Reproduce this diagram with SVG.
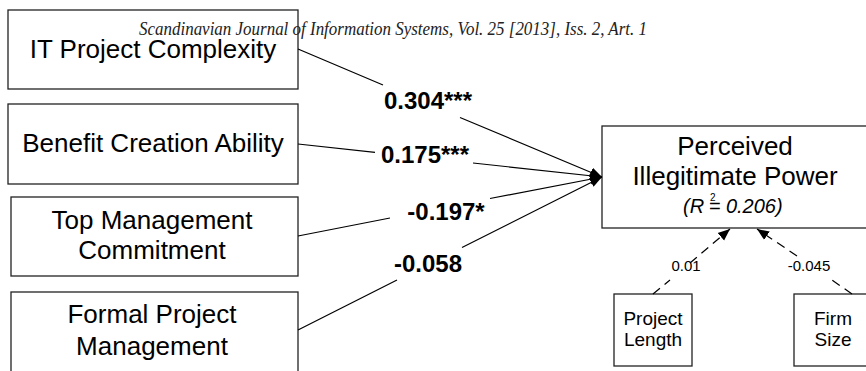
<svg xmlns="http://www.w3.org/2000/svg" width="866" height="371" viewBox="0 0 866 371">
<style>
  .box { fill: #fff; stroke: #222; stroke-width: 1.3; }
  .t { font-family: "Liberation Sans", Arial, sans-serif; font-size: 26px; fill: #000; text-anchor: middle; }
  .s { font-family: "Liberation Sans", Arial, sans-serif; font-size: 19px; fill: #000; text-anchor: middle; }
  .lbl { font-family: "Liberation Sans", Arial, sans-serif; font-size: 24px; font-weight: bold; fill: #000; text-anchor: middle; }
  .sl { font-family: "Liberation Sans", Arial, sans-serif; font-size: 15px; fill: #000; text-anchor: middle; }
  .conn { fill: none; stroke: #000; stroke-width: 1.2; }
  .dash { fill: none; stroke: #000; stroke-width: 1.2; stroke-dasharray: 9 6; }
  .hdr { font-family: "Liberation Serif", "Times New Roman", serif; font-style: italic; font-size: 19px; fill: #222; }
</style>
<defs>
  <marker id="arr" markerUnits="userSpaceOnUse" markerWidth="14" markerHeight="12" refX="12" refY="5" orient="auto" viewBox="0 0 14 10">
    <path d="M0,0 L12,5 L0,10 Z" fill="#000"/>
  </marker>
</defs>
<rect width="866" height="371" fill="#fff"/>

<g id="it-project-complexity">
  <rect class="box" x="8" y="10" width="290" height="79"/>
  <text class="t" x="153" y="58">IT Project Complexity</text>
</g>

<text class="hdr" x="139" y="35" textLength="508" lengthAdjust="spacingAndGlyphs">Scandinavian Journal of Information Systems, Vol. 25 [2013], Iss. 2, Art. 1</text>

<g id="benefit-creation-ability">
  <rect class="box" x="8" y="104" width="290" height="80"/>
  <text class="t" x="153" y="152">Benefit Creation Ability</text>
</g>

<g id="top-management-commitment">
  <rect class="box" x="11" y="197" width="287" height="79"/>
  <text class="t" x="152" y="229">Top Management</text>
  <text class="t" x="152" y="259">Commitment</text>
</g>

<g id="formal-project-management">
  <rect class="box" x="11" y="292" width="287" height="82"/>
  <text class="t" x="152" y="323">Formal Project</text>
  <text class="t" x="152" y="355">Management</text>
</g>

<g id="perceived-illegitimate-power">
  <rect class="box" x="602" y="126" width="270" height="102"/>
  <text class="t" x="735" y="155">Perceived</text>
  <text class="t" x="735" y="185">Illegitimate Power</text>
  <text x="683" y="213" font-family="Liberation Sans, Arial, sans-serif" font-size="20" font-style="italic" fill="#000">(R<tspan dx="6" dy="-12" font-size="10" font-style="normal">2</tspan><tspan dx="-7" dy="12">= 0.206)</tspan></text>
</g>

<g id="project-length">
  <rect class="box" x="614" y="294" width="78" height="72"/>
  <text class="s" x="653" y="325">Project</text>
  <text class="s" x="653" y="346">Length</text>
</g>

<g id="firm-size">
  <rect class="box" x="794" y="294" width="80" height="72"/>
  <text class="s" x="833" y="325">Firm</text>
  <text class="s" x="833" y="346">Size</text>
</g>

<g id="connectors">
  <path class="conn" d="M298,49 L383,85 M460,117.5 L602,177" marker-end="url(#arr)"/>
  <path class="conn" d="M298,144 L375,152.4 M473,163 L602,177" marker-end="url(#arr)"/>
  <path class="conn" d="M298,236 L390,218 M490,198.5 L602,177" marker-end="url(#arr)"/>
  <path class="conn" d="M298,330 L397,280 M462,247.5 L602,177" marker-end="url(#arr)"/>
  <path class="dash" d="M653,294 L670,280 M690,263 L730,229" marker-end="url(#arr)"/>
  <path class="dash" d="M852,294 L832,280 M797,256 L757,229" marker-end="url(#arr)"/>
  <text class="lbl" x="428" y="109">0.304***</text>
  <text class="lbl" x="425" y="163">0.175***</text>
  <text class="lbl" x="446" y="220">-0.197*</text>
  <text class="lbl" x="428" y="272">-0.058</text>
  <text class="sl" x="686" y="271">0.01</text>
  <text class="sl" x="809" y="271">-0.045</text>
</g>
</svg>
